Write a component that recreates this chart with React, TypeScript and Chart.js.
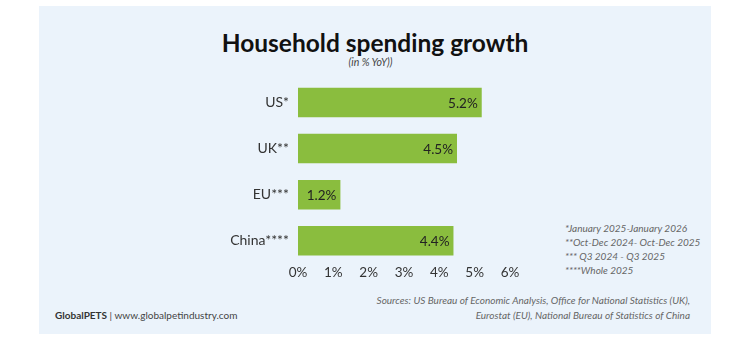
import React, { useEffect, useRef } from "react";
import { Chart, registerables } from "chart.js";

Chart.register(...registerables);

const categories = ["US*", "UK**", "EU***", "China****"];
const growth = [5.2, 4.5, 1.2, 4.4];
const valueLabels = ["5.2%", "4.5%", "1.2%", "4.4%"];
const xTicks = [0, 1, 2, 3, 4, 5, 6];
const footnotes = [
  "*January 2025-January 2026",
  "**Oct-Dec 2024- Oct-Dec 2025",
  "*** Q3 2024 - Q3 2025",
  "****Whole 2025",
];
const sources = [
  "Sources: US Bureau of Economic Analysis, Office for National Statistics (UK),",
  "Eurostat (EU), National Bureau of Statistics of China",
];

const FONT = "Lato, 'Open Sans', sans-serif";

const valueLabelPlugin = {
  id: "valueLabels",
  afterDatasetsDraw(chart: any) {
    const ctx = chart.ctx;
    const meta = chart.getDatasetMeta(0);
    ctx.save();
    ctx.font = `13.5px ${FONT}`;
    ctx.fillStyle = "#222";
    ctx.textAlign = "right";
    ctx.textBaseline = "middle";
    meta.data.forEach((bar: any, i: number) => {
      ctx.fillText(valueLabels[i], bar.x - 4, bar.y + 1);
    });
    ctx.restore();
  },
};

export default function App() {
  const canvasRef = useRef<HTMLCanvasElement | null>(null);

  useEffect(() => {
    if (!canvasRef.current) return;
    const chart = new Chart(canvasRef.current, {
      type: "bar",
      data: {
        labels: categories,
        datasets: [
          {
            data: growth,
            backgroundColor: "#8abd3e",
            borderWidth: 0,
            categoryPercentage: 1,
            barPercentage: 0.64,
          },
        ],
      },
      options: {
        indexAxis: "y",
        animation: false,
        responsive: false,
        maintainAspectRatio: false,
        layout: { padding: { top: 1, right: 20, bottom: 8, left: 0 } },
        plugins: {
          legend: { display: false },
          tooltip: { enabled: false },
        },
        scales: {
          x: {
            min: 0,
            max: 6,
            afterBuildTicks: (scale: any) => {
              scale.ticks = xTicks.map((v) => ({ value: v }));
            },
            grid: { display: false, drawTicks: false },
            border: { display: false },
            ticks: {
              padding: 1,
              color: "#333",
              font: { family: FONT, size: 13.5 },
              callback: (v: any) => `${v}%`,
            },
          },
          y: {
            afterFit: (scale: any) => {
              scale.width = 108;
            },
            grid: { display: false, drawTicks: false },
            border: { display: false },
            ticks: {
              padding: 9,
              color: "#333",
              font: { family: FONT, size: 14 },
            },
          },
        },
      },
      plugins: [valueLabelPlugin],
    });
    return () => chart.destroy();
  }, []);

  return (
    <div
      style={{
        position: "fixed",
        left: 0,
        top: 0,
        width: 741,
        height: 352,
        background: "#fff",
        fontFamily: FONT,
      }}
    >
      <div
        style={{
          position: "absolute",
          left: 39,
          top: 6,
          width: 672,
          height: 328,
          background: "#ebf3fb",
        }}
      />
      <div
        style={{
          position: "absolute",
          left: 0,
          width: 750,
          top: 28,
          textAlign: "center",
          fontSize: 24.5,
          fontWeight: 700,
          color: "#111",
          lineHeight: "30px",
        }}
      >
        Household spending growth
      </div>
      <div
        style={{
          position: "absolute",
          left: 0,
          width: 741,
          top: 56,
          textAlign: "center",
          fontSize: 10.5,
          fontStyle: "italic",
          color: "#444",
          lineHeight: "13px",
        }}
      >
        (in % YoY))
      </div>
      <canvas
        ref={canvasRef}
        width={340}
        height={228}
        style={{ position: "absolute", left: 190, top: 62, width: 340, height: 228 }}
      />
      <div
        style={{
          position: "absolute",
          left: 565,
          top: 221,
          fontSize: 10,
          fontStyle: "italic",
          color: "#666",
          lineHeight: "14px",
        }}
      >
        {footnotes.map((f) => (
          <div key={f}>{f}</div>
        ))}
      </div>
      <div
        style={{
          position: "absolute",
          left: 55,
          top: 308,
          fontSize: 10,
          color: "#444",
          lineHeight: "14px",
        }}
      >
        <b style={{ color: "#333" }}>GlobalPETS</b> | www.globalpetindustry.com
      </div>
      <div
        style={{
          position: "absolute",
          right: 741 - 690,
          top: 293,
          fontSize: 10,
          fontStyle: "italic",
          color: "#666",
          lineHeight: "15px",
          textAlign: "right",
        }}
      >
        {sources.map((s) => (
          <div key={s}>{s}</div>
        ))}
      </div>
    </div>
  );
}
